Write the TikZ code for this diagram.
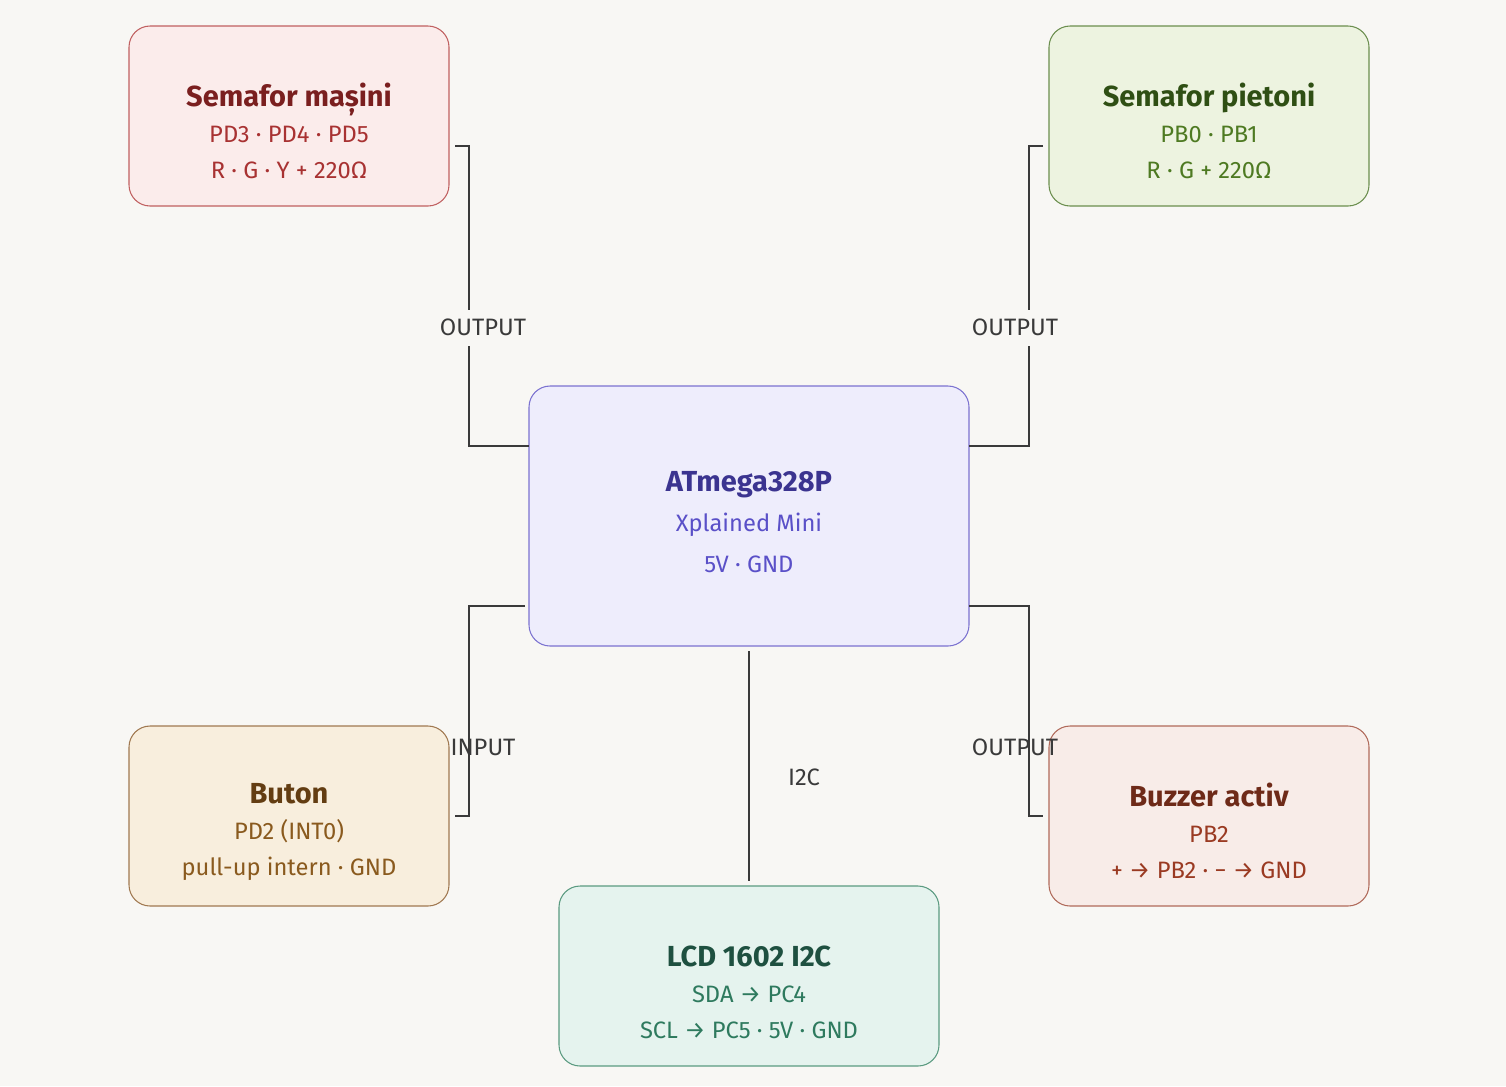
\documentclass[tikz,border=0pt]{standalone}
\usepackage{fontspec}
\setmainfont{Fira Sans}
\usetikzlibrary{positioning}
\definecolor{bgc}{HTML}{F8F7F4}
\definecolor{wirec}{HTML}{3A3A3A}
\newcommand{\boxtitle}[3][30pt]{\rule{0pt}{#1}{\fontsize{16.5}{24}\selectfont\bfseries\color[RGB]{#2}#3}}
\begin{document}
\begin{tikzpicture}[x=0.02cm,y=-0.02cm,
    box/.style={draw, rounded corners=12pt, line width=0.6pt, align=center,
      minimum width=#1*0.02cm, minimum height=180*0.02cm, font=\fontsize{13.5}{20.5}\selectfont},
    wire/.style={draw=wirec, line width=0.8pt},
    tag/.style={inner sep=2pt, text=wirec, font=\fontsize{13.5}{15}\selectfont}
    ]
\fill[bgc] (0,0) rectangle (1506,1086);
% modules
\node[box=320, fill={rgb,255:red,251;green,236;blue,235}, draw={rgb,255:red,192;green,96;blue,96},
  text={rgb,255:red,168;green,50;blue,50}] (semmas) at (289,116)
  {\boxtitle{122,31,31}{Semafor mașini}\\PD3 · PD4 · PD5\\R · G · Y + 220Ω};
\node[box=320, fill={rgb,255:red,237;green,243;blue,224}, draw={rgb,255:red,107;green,142;blue,78},
  text={rgb,255:red,78;green,122;blue,34}] (sempiet) at (1209,116)
  {\boxtitle{47,79,20}{Semafor pietoni}\\PB0 · PB1\\R · G + 220Ω};
\node[box=440, minimum height=260*0.02cm, fill={rgb,255:red,238;green,237;blue,252}, draw={rgb,255:red,123;green,114;blue,208},
  text={rgb,255:red,90;green,80;blue,200}, font=\fontsize{13.5}{23}\selectfont] (mcu) at (749,516)
  {\boxtitle[18pt]{59,52,144}{ATmega328P}\\Xplained Mini\\5V · GND};
\node[box=320, fill={rgb,255:red,248;green,238;blue,221}, draw={rgb,255:red,160;green,120;blue,80},
  text={rgb,255:red,138;green,90;blue,30}] (buton) at (289,816)
  {\boxtitle{99,61,18}{Buton}\\PD2 (INT0)\\pull-up intern · GND};
\node[box=320, fill={rgb,255:red,248;green,236;blue,232}, draw={rgb,255:red,176;green,106;blue,90},
  text={rgb,255:red,154;green,58;blue,34}] (buzzer) at (1209,816)
  {\boxtitle{110,42,24}{Buzzer activ}\\PB2\\+ → PB2 · − → GND};
\node[box=380, fill={rgb,255:red,229;green,243;blue,238}, draw={rgb,255:red,90;green,154;blue,128},
  text={rgb,255:red,46;green,122;blue,94}] (lcd) at (749,976)
  {\boxtitle{30,80,64}{LCD 1602 I2C}\\SDA → PC4\\SCL → PC5 · 5V · GND};
% wires
\coordinate (a1) at (455,146); \coordinate (a2) at (529,446);
\draw[wire] (a1) -| (469,310);
\draw[wire] (469,346) -- (469,446) -- (a2);
\node[tag] (o1) at (483,327) {OUTPUT};
\coordinate (b1) at (1043,146); \coordinate (b2) at (969,446);
\draw[wire] (b1) -| (1029,310);
\draw[wire] (1029,346) -- (1029,446) -- (b2);
\node[tag] (o2) at (1015,327) {OUTPUT};
\coordinate (c1) at (525,606); \coordinate (c2) at (455,816);
\draw[wire] (c1) -| (469,700) -- (469,816) -- (c2);
\node[tag] (o3) at (483,747) {INPUT};
\coordinate (d1) at (969,606); \coordinate (d2) at (1043,816);
\draw[wire] (d1) -| (1029,700) -- (1029,816) -- (d2);
\node[tag] (o4) at (1015,747) {OUTPUT};
\coordinate (e1) at (749,651); \coordinate (e2) at (749,881);
\draw[wire] (e1) -- (e2);
\node[tag] (o5) at (804,777) {I2C};
\end{tikzpicture}
\end{document}
